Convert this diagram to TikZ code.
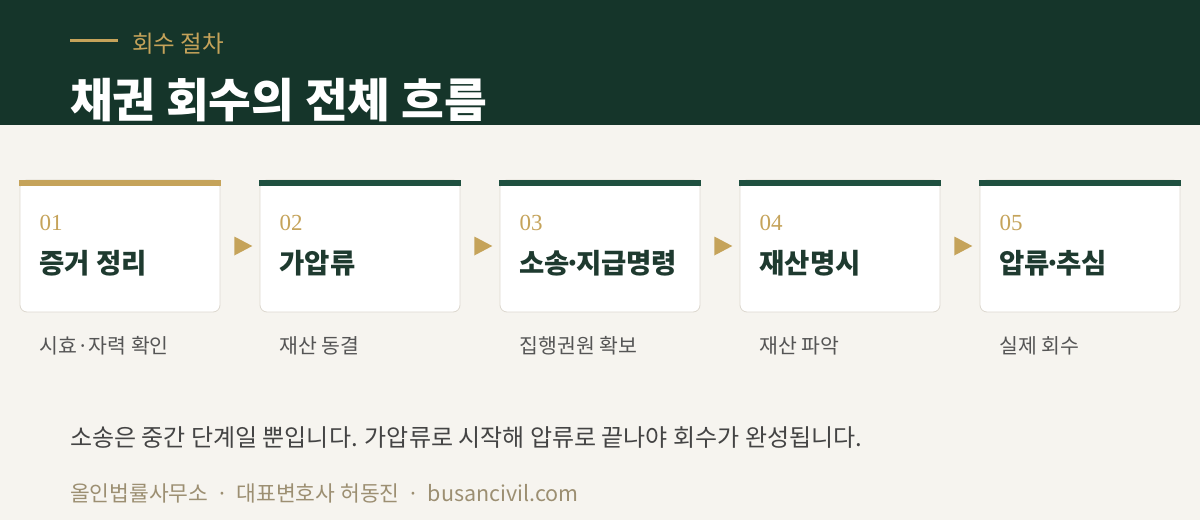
\documentclass[tikz,border=0pt]{standalone}
\usepackage{fontspec}
\setmainfont{Noto Sans CJK KR}
\newfontfamily\numfont{Liberation Serif}
\usetikzlibrary{shapes.geometric,calc}
\definecolor{bgc}{HTML}{F6F4EF}
\definecolor{hdr}{HTML}{15352A}
\definecolor{gold}{HTML}{C5A35A}
\definecolor{bargreen}{HTML}{1F5040}
\definecolor{ttl}{HTML}{1E3A2F}
\definecolor{subg}{HTML}{555555}
\definecolor{bodyg}{HTML}{444444}
\definecolor{foot}{HTML}{9C8F72}
\definecolor{border}{HTML}{DDD8CF}
\newcommand{\tdot}{\kern-0.2em·\kern-0.2em}
\tikzset{
  txt/.style={anchor=base west, inner sep=0pt, outer sep=0pt},
  card/.style={draw=border, line width=0.8pt, fill=white, rounded corners=7pt,
    minimum width=200pt, minimum height=132pt, inner sep=0pt},
  numlbl/.style={txt, text=gold, font=\numfont\fontsize{23}{23}\selectfont},
  cardttl/.style={txt, text=ttl, font=\fontsize{27.5}{27.5}\selectfont\bfseries},
  sublbl/.style={txt, text=subg, font=\fontsize{20.5}{20.5}\selectfont},
  tri/.style={isosceles triangle, isosceles triangle stretches, fill=gold,
    minimum width=19pt, minimum height=18pt, inner sep=0pt, shape border rotate=0}
}
\begin{document}
\begin{tikzpicture}[x=1pt,y=-1pt]
\useasboundingbox (0,0) rectangle (1200,520);
\fill[bgc] (0,0) rectangle (1200,520);
\fill[hdr] (0,0) rectangle (1200,125);
% header
\coordinate (ruleA) at (70,40);
\coordinate (ruleB) at (118,40);
\draw[gold, line width=3pt] (ruleA) -- (ruleB);
\node[txt, text=gold, font=\fontsize{23.5}{23.5}\selectfont] (kicker) at (132,52) {회수 절차};
\node[txt, text=white, font=\fontsize{46.5}{46.5}\selectfont\bfseries] (title) at (70,117) {채권 회수의 전체 흐름};
% cards
\foreach \i/\num/\ttl/\sub/\barc in {1/01/증거 정리/시효·자력 확인/gold,
  2/02/가압류/재산 동결/bargreen,
  3/03/소송\tdot 지급명령/집행권원 확보/bargreen,
  4/04/재산명시/재산 파악/bargreen,
  5/05/압류\tdot 추심/실제 회수/bargreen}{
  \pgfmathsetmacro{\cx}{120+240*(\i-1)}
  \node[card] (c\i) at (\cx,246) {};
  \fill[\barc] ($(c\i.north west)+(-0.4,0)$) rectangle ($(c\i.north east)+(0.4,6.5)$);
  \node[numlbl] (n\i) at ($(c\i.north west)+(20,51)$) {\num};
  \node[cardttl] (h\i) at ($(c\i.north west)+(20,94)$) {\ttl};
  \node[sublbl] (s\i) at ($(c\i.south west)+(20,41)$) {\sub};
}
\foreach \a/\b in {1/2,2/3,3/4,4/5}{
  \node[tri] (t\a) at ($(c\a.east)!0.5!(c\b.west)$) {};
}
% bottom
\node[txt, text=bodyg, font=\fontsize{24}{24}\selectfont] (note) at (70,446) {소송은 중간 단계일 뿐입니다. 가압류로 시작해 압류로 끝나야 회수가 완성됩니다.};
\node[txt, text=foot, font=\fontsize{21.5}{21.5}\selectfont] (footer) at (70,501) {올인법률사무소\kern0.15em{} · \kern0.15em{}대표변호사 허동진\kern0.15em{} · \kern0.15em{}busancivil.com};
\end{tikzpicture}
\end{document}
